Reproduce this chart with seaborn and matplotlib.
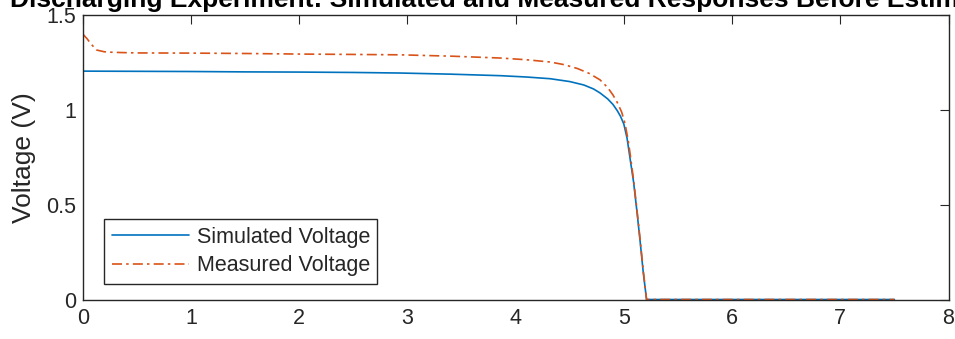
import matplotlib
matplotlib.use("Agg")
import matplotlib.pyplot as plt
import seaborn as sns
import pandas as pd

# Data
sim_t = [0, 0.5, 1, 1.5, 2, 2.5, 2.93, 3.4, 3.86, 4.1, 4.32, 4.5, 4.63, 4.72, 4.78,
         4.85, 4.90, 4.94, 4.97, 5.0, 5.03, 5.06, 5.09, 5.12, 5.15, 5.18, 5.21,
         5.25, 6.0, 7.0, 7.5]
sim_v = [1.204, 1.203, 1.202, 1.200, 1.199, 1.197, 1.194, 1.188, 1.18, 1.173, 1.164,
         1.149, 1.131, 1.110, 1.089, 1.058, 1.028, 0.995, 0.965, 0.925, 0.85, 0.734,
         0.62, 0.47, 0.31, 0.14, 0.0, 0.0, 0.0, 0.0, 0.0]

meas_t = [0, 0.04, 0.08, 0.13, 0.2, 0.25, 0.35, 0.5, 1, 1.5, 2, 2.5, 2.93, 3.4, 3.86,
          4.1, 4.32, 4.45, 4.57, 4.68, 4.78, 4.85, 4.90, 4.94, 4.98, 5.01, 5.04,
          5.06, 5.09, 5.12, 5.15, 5.18, 5.21, 5.25, 6.0, 7.0, 7.5]
meas_v = [1.40, 1.375, 1.345, 1.315, 1.306, 1.304, 1.302, 1.30, 1.299, 1.297, 1.294,
          1.292, 1.29, 1.283, 1.273, 1.264, 1.252, 1.238, 1.218, 1.192, 1.158, 1.118,
          1.078, 1.038, 0.988, 0.93, 0.84, 0.76, 0.63, 0.48, 0.32, 0.15, 0.0, 0.0,
          0.0, 0.0, 0.0]

series_names = ["Simulated Voltage", "Measured Voltage"]
title_text = "Discharging Experiment: Simulated and Measured Responses Before Estimation"
x_ticks = [0, 1, 2, 3, 4, 5, 6, 7, 8]
y_ticks = [0, 0.5, 1, 1.5]
y_tick_labels = ["0", "0.5", "1", "1.5"]

sns.set_style("white")
plt.rcParams["font.family"] = ["Liberation Sans", "DejaVu Sans"]

df_sim = pd.DataFrame({"t": sim_t, "v": sim_v})
df_meas = pd.DataFrame({"t": meas_t, "v": meas_v})

fig = plt.figure(figsize=(9.55, 3.39), dpi=100)
ax = fig.add_axes([0.0866, 0.1165, 0.9066, 0.8393])

gray = "#262626"
sns.lineplot(data=df_sim, x="t", y="v", ax=ax, color="#0072BD", linewidth=1.2,
             label=series_names[0], sort=False, estimator=None)
sns.lineplot(data=df_meas, x="t", y="v", ax=ax, color="#D95319", linewidth=1.2,
             linestyle=(0, (6, 2.5, 1.5, 2.5)), label=series_names[1],
             sort=False, estimator=None)

ax.set_xlim(0, 8)
ax.set_ylim(0, 1.5)
ax.set_xticks(x_ticks)
ax.set_xticklabels([str(v) for v in x_ticks])
ax.set_yticks(y_ticks)
ax.set_yticklabels(y_tick_labels)
ax.set_xlabel("")
ax.set_ylabel("Voltage (V)", fontsize=19, color=gray, labelpad=7)
ax.set_title(title_text, fontsize=19, fontweight="bold", color="black", pad=6)

for s in ax.spines.values():
    s.set_visible(True)
    s.set_color(gray)
    s.set_linewidth(1.0)
ax.tick_params(axis="both", direction="in", length=6.2, width=0.8, colors=gray,
               labelsize=15.5, top=True, right=True, labelcolor=gray)
ax.tick_params(axis="x", pad=6)
ax.tick_params(axis="y", pad=5)

leg = ax.legend(loc="lower left", bbox_to_anchor=(0.0246, 0.0545), fontsize=15.5,
                frameon=True, fancybox=False, shadow=False, framealpha=1,
                edgecolor=gray, handlelength=3.6, handletextpad=0.35,
                borderpad=0.35, labelspacing=0.35, borderaxespad=0)
leg.get_frame().set_linewidth(1.0)
for t in leg.get_texts():
    t.set_color(gray)

fig.savefig("out.png", dpi=100)
